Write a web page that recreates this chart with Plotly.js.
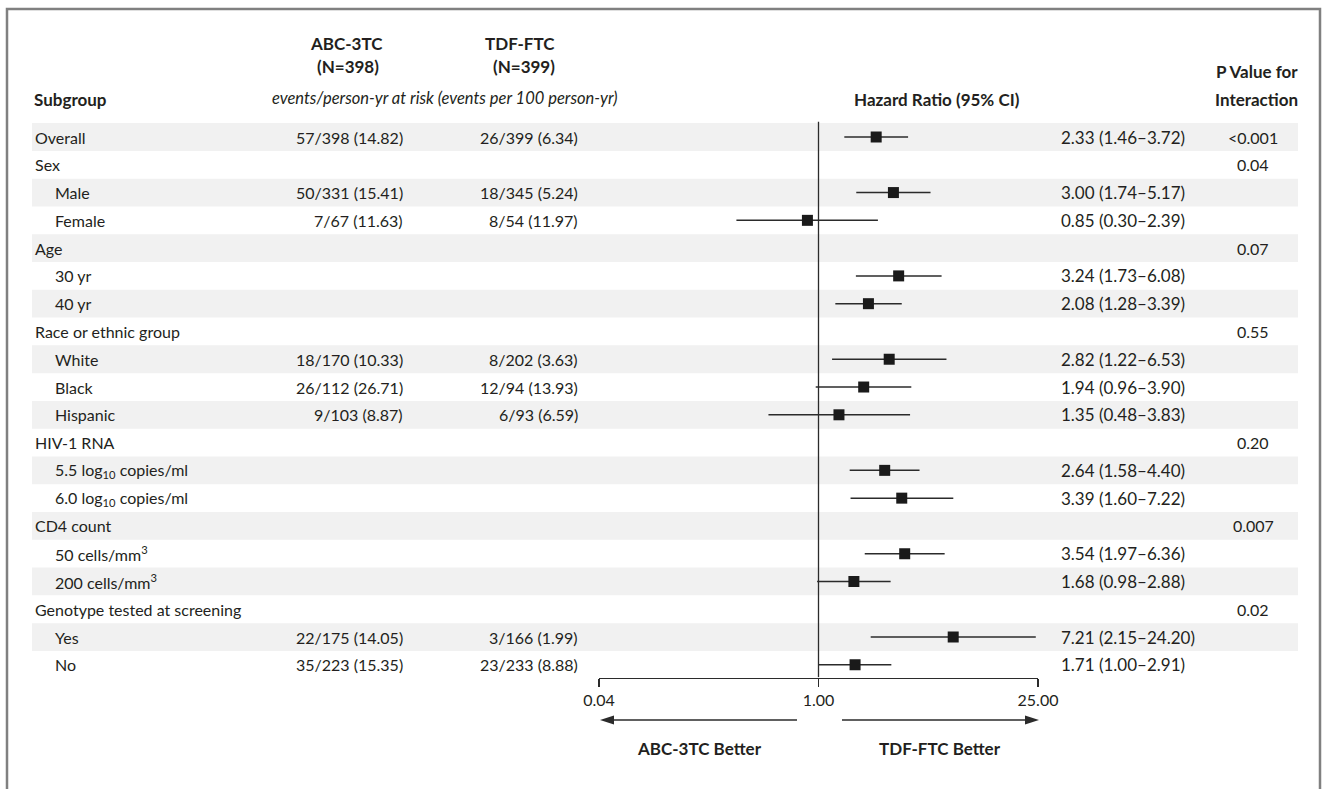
<!DOCTYPE html>
<html>
<head>
<meta charset="utf-8">
<script src="https://cdn.plot.ly/plotly-3.0.1.min.js"></script>
<style>html,body{margin:0;padding:0;background:#fff;}#chart{width:1324px;height:789px;}</style>
</head>
<body>
<div id="chart"></div>
<script>
// ---- data ----
const subgroups = ["Overall","Sex","Male","Female","Age","30 yr","40 yr","Race or ethnic group","White","Black","Hispanic","HIV-1 RNA","5.5 log<sub>10</sub> copies/ml","6.0 log<sub>10</sub> copies/ml","CD4 count","50 cells/mm<sup>3</sup>","200 cells/mm<sup>3</sup>","Genotype tested at screening","Yes","No"];
const indented = [0,0,1,1,0,1,1,0,1,1,1,0,1,1,0,1,1,0,1,1];
const abcEvents = ["57/398 (14.82)","","50/331 (15.41)","7/67 (11.63)","","","","","18/170 (10.33)","26/112 (26.71)","9/103 (8.87)","","","","","","","","22/175 (14.05)","35/223 (15.35)"];
const tdfEvents = ["26/399 (6.34)","","18/345 (5.24)","8/54 (11.97)","","","","","8/202 (3.63)","12/94 (13.93)","6/93 (6.59)","","","","","","","","3/166 (1.99)","23/233 (8.88)"];
const hr    = [2.33,null,3.00,0.85,null,3.24,2.08,null,2.82,1.94,1.35,null,2.64,3.39,null,3.54,1.68,null,7.21,1.71];
const ciLow = [1.46,null,1.74,0.30,null,1.73,1.28,null,1.22,0.96,0.48,null,1.58,1.60,null,1.97,0.98,null,2.15,1.00];
const ciHigh= [3.72,null,5.17,2.39,null,6.08,3.39,null,6.53,3.90,3.83,null,4.40,7.22,null,6.36,2.88,null,24.20,2.91];
const pInteraction = ["<0.001","0.04","","","0.07","","","0.55","","","","0.20","","","0.007","","","0.02","",""];
const tickVals = [0.04, 1, 25];
const tickText = ["0.04","1.00","25.00"];

// ---- layout constants ----
const W = 1324, H = 789;
const FONT = "Lato, 'Open Sans', sans-serif";
const TXT = "#231f20";
const FS = 16;
const FSH = 17;
const px = v => v / W;
const py = v => 1 - v / H;
const rowY = subgroups.map((_, i) => i);

// CI segments
const segX = [], segY = [];
hr.forEach((v, i) => {
  if (v !== null) { segX.push(ciLow[i], ciHigh[i], null); segY.push(i, i, null); }
});
const ptX = [], ptY = [];
hr.forEach((v, i) => { if (v !== null) { ptX.push(v); ptY.push(i); } });

const traces = [
  {type:"scatter", mode:"lines", x:segX, y:segY, line:{color:"#2b2b2b", width:1.5}, hoverinfo:"skip", showlegend:false},
  {type:"scatter", mode:"markers", x:ptX, y:ptY, marker:{symbol:"square", size:11, color:"#1a1a1a"}, showlegend:false}
];

const shapes = [];
rowY.forEach(i => {
  if (i % 2 === 0) shapes.push({type:"rect", layer:"below", xref:"paper", yref:"y",
    x0:px(32), x1:px(1298), y0:i-0.5, y1:i+0.5, fillcolor:"#f1f1f1", line:{width:0}});
});
shapes.push({type:"line", xref:"x", yref:"y", x0:1, x1:1, y0:-0.55, y1:19.45, line:{color:"#2b2b2b", width:1.3}});
shapes.push({type:"rect", xref:"paper", yref:"paper", x0:px(7), x1:px(1320), y0:-0.05, y1:py(9),
  line:{color:"#808080", width:2.5}, fillcolor:"rgba(0,0,0,0)"});

// direction arrows (shaft + filled head)
const AY = 720;
shapes.push({type:"line", xref:"paper", yref:"paper", x0:px(612), x1:px(797), y0:py(AY), y1:py(AY), line:{color:"#2b2b2b", width:1.6}});
shapes.push({type:"path", xref:"paper", yref:"paper",
  path:`M ${px(600)} ${py(AY)} L ${px(614)} ${py(AY-4.5)} L ${px(614)} ${py(AY+4.5)} Z`,
  fillcolor:"#2b2b2b", line:{width:0}});
shapes.push({type:"line", xref:"paper", yref:"paper", x0:px(842), x1:px(1026), y0:py(AY), y1:py(AY), line:{color:"#2b2b2b", width:1.6}});
shapes.push({type:"path", xref:"paper", yref:"paper",
  path:`M ${px(1039)} ${py(AY)} L ${px(1025)} ${py(AY-4.5)} L ${px(1025)} ${py(AY+4.5)} Z`,
  fillcolor:"#2b2b2b", line:{width:0}});

const ann = [];
const yFromPx = p => (p - 137) / 27.78;
function txt(text, x, y, anchor, size) {
  ann.push({text:text, xref:"paper", yref:"y", x:px(x), y:y, xanchor:anchor, yanchor:"middle",
    showarrow:false, font:{family:FONT, size:size || FS, color:TXT}});
}
// headers
txt("<b>ABC-3TC</b>", 346, yFromPx(43), "center", FSH);
txt("<b>(N=398)</b>", 348, yFromPx(66), "center", FSH);
txt("<b>TDF-FTC</b>", 520, yFromPx(43), "center", FSH);
txt("<b>(N=399)</b>", 524, yFromPx(66), "center", FSH);
txt("<b>Subgroup</b>", 32, yFromPx(99), "left", FSH);
txt("<i>events/person-yr at risk (events per 100 person-yr)</i>", 445, yFromPx(98), "center", 16.5);
txt("<b>Hazard Ratio (95% CI)</b>", 937, yFromPx(99), "center", FSH);
txt("<b>P Value for</b>", 1300, yFromPx(71), "right", FSH);
txt("<b>Interaction</b>", 1300, yFromPx(99), "right", FSH);

// rows
rowY.forEach(i => {
  txt(subgroups[i], indented[i] ? 53 : 33, i, "left");
  if (abcEvents[i]) txt(abcEvents[i], 405, i, "right");
  if (tdfEvents[i]) txt(tdfEvents[i], 580, i, "right");
  if (hr[i] !== null) txt(hr[i].toFixed(2) + " (" + ciLow[i].toFixed(2) + "\u2013" + ciHigh[i].toFixed(2) + ")", 1059, i, "left", 17);
  if (pInteraction[i]) txt(pInteraction[i], 1253, i, "center");
});

ann.push({xref:"paper", yref:"paper", x:px(699), y:py(748), xanchor:"center", yanchor:"middle", showarrow:false,
  text:"<b>ABC-3TC Better</b>", font:{family:FONT, size:FSH, color:TXT}});
ann.push({xref:"paper", yref:"paper", x:px(940), y:py(748), xanchor:"center", yanchor:"middle", showarrow:false,
  text:"<b>TDF-FTC Better</b>", font:{family:FONT, size:FSH, color:TXT}});

const axisBottom = 677.5;
const layout = {
  width:W, height:H,
  margin:{l:0, r:0, t:0, b:0, pad:0},
  paper_bgcolor:"#ffffff", plot_bgcolor:"rgba(0,0,0,0)",
  showlegend:false,
  xaxis:{type:"log", domain:[px(599), px(1038)], range:[Math.log10(0.04), Math.log10(25)],
    tickvals:tickVals, ticktext:tickText, ticks:"outside", ticklen:8, tickwidth:1.5, tickcolor:"#2b2b2b",
    showline:true, linecolor:"#2b2b2b", linewidth:1.5, showgrid:false, zeroline:false,
    tickfont:{family:FONT, size:FS, color:TXT}, fixedrange:true},
  yaxis:{domain:[(H - axisBottom) / H, 1], range:[yFromPx(axisBottom), yFromPx(0)],
    visible:false, showgrid:false, zeroline:false, fixedrange:true},
  shapes:shapes,
  annotations:ann
};

Plotly.newPlot("chart", traces, layout, {displayModeBar:false, staticPlot:true});
</script>
</body>
</html>
